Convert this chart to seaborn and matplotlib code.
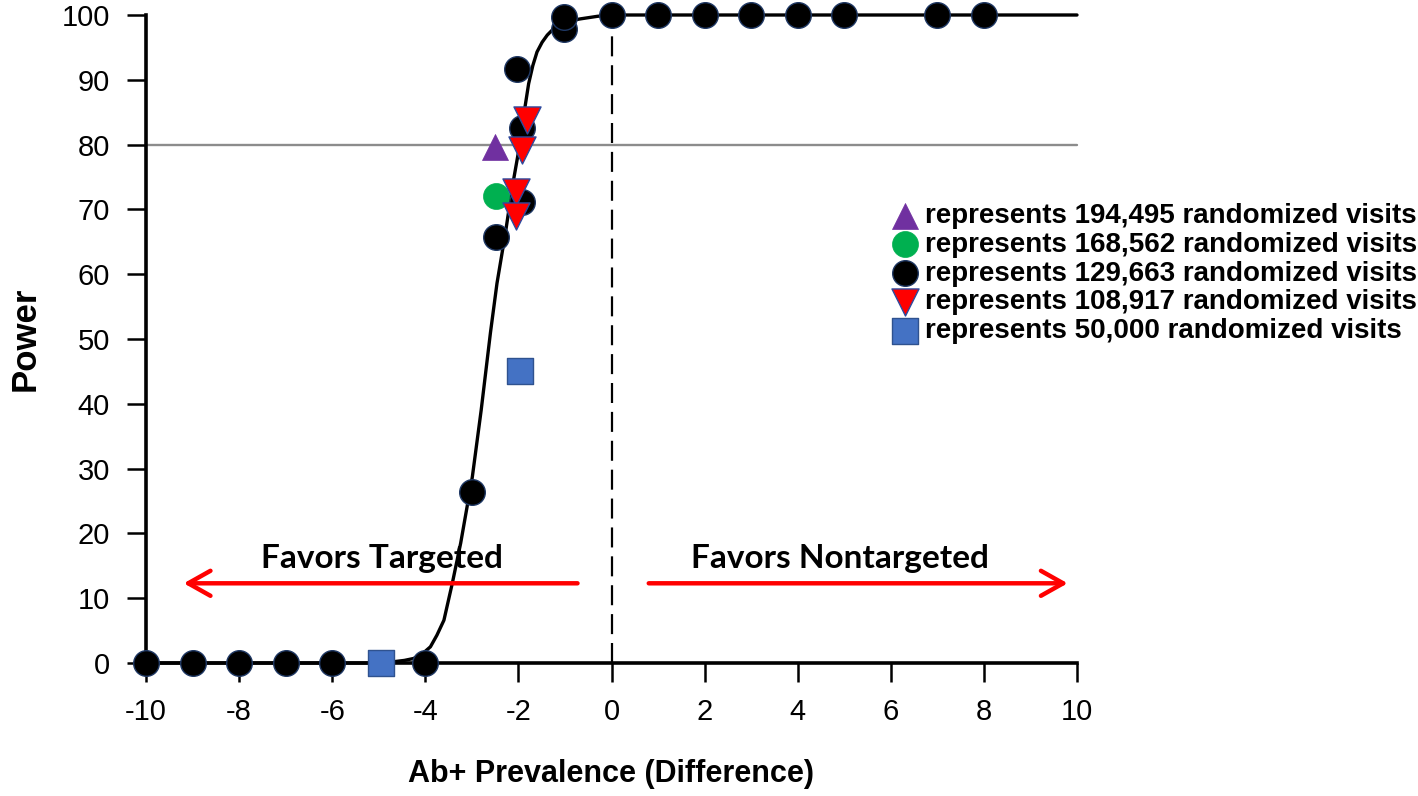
import matplotlib
matplotlib.use("Agg")
import matplotlib.pyplot as plt
import seaborn as sns
import numpy as np
import pandas as pd

# ---------------- data ----------------
black_x = [-10, -9, -8, -7, -6, -4, -3, -2.49, -1.92, -1.92, -2.03, -1.02, -1.02, 0, 1, 2, 3, 4, 5, 7, 8]
black_y = [0, 0, 0, 0, 0, 0, 26.4, 65.8, 71.2, 82.5, 91.7, 97.9, 99.7, 100, 100, 100, 100, 100, 100, 100, 100]

purple_x = [-2.51]
purple_y = [79.7]

green_x = [-2.49]
green_y = [72.0]

red_x = [-1.81, -1.92, -2.05, -2.06]
red_y = [83.8, 79.2, 72.7, 69.0]

blue_x = [-4.96, -1.96]
blue_y = [0.0, 45.0]

curve_x = [-10, -4.8, -4.68, -4.45, -4.25, -4.05, -3.89, -3.75, -3.60, -3.42, -3.24, -2.99,
           -2.80, -2.60, -2.46, -2.28, -2.13, -1.99, -1.88, -1.78, -1.69, -1.60, -1.49,
           -1.38, -1.27, -1.17, -1.03, -0.9, -0.67, -0.3, 0, 10]
curve_y = [0, 0, 0.2, 0.4, 0.7, 1.5, 2.5, 4.3, 6.6, 12.3, 18.5, 28.7,
           39, 51, 58.6, 66.3, 73.5, 79.2, 84.8, 89.4, 92.2, 94.3, 95.8,
           96.9, 97.7, 98.3, 98.8, 99.1, 99.4, 99.8, 100, 100]

labels = ["represents 194,495 randomized visits",
          "represents 168,562 randomized visits",
          "represents 129,663 randomized visits",
          "represents 108,917 randomized visits",
          "represents 50,000 randomized visits"]

x_ticks = list(range(-10, 11, 2))
y_ticks = list(range(0, 101, 10))
power_threshold = 80
x_label = "Ab+ Prevalence (Difference)"
y_label = "Power"
left_text = "Favors Targeted"
right_text = "Favors Nontargeted"

# ---------------- style ----------------
sns.set_theme(style="white")
plt.rcParams["font.family"] = ["Liberation Sans", "DejaVu Sans"]
plt.rcParams["axes.unicode_minus"] = False
plt.rcParams["text.color"] = "black"
plt.rcParams["axes.labelcolor"] = "black"
plt.rcParams["xtick.color"] = "black"
plt.rcParams["ytick.color"] = "black"

fig = plt.figure(figsize=(14.18, 7.96), dpi=100)
ax = fig.add_axes([146/1418, 133/796, (1077-146)/1418, (663-15)/796])

# reference lines
ax.axhline(power_threshold, color="#8c8c8c", lw=1.7, zorder=1)
ax.plot([0, 0], [0, 100], color="black", lw=1.6, ls=(0, (9, 4)), zorder=1)

# fitted curve
sns.lineplot(x=curve_x, y=curve_y, sort=False, color="black", lw=2.4, ax=ax, zorder=2)

# points
sns.scatterplot(x=black_x, y=black_y, marker="o", s=340, color="black",
                edgecolor="#1F3864", linewidth=1.0, label=labels[2], ax=ax, zorder=3)
sns.scatterplot(x=green_x, y=green_y, marker="o", s=350, color="#00B050",
                edgecolor="#00B050", linewidth=0.5, label=labels[1], ax=ax, zorder=4)
sns.scatterplot(x=purple_x, y=purple_y, marker="^", s=350, color="#7030A0",
                edgecolor="#7030A0", linewidth=0.5, label=labels[0], ax=ax, zorder=4)
sns.scatterplot(x=red_x, y=red_y, marker="v", s=380, color="#FF0000",
                edgecolor="#2E4A9E", linewidth=1.0, label=labels[3], ax=ax, zorder=5)
sns.scatterplot(x=blue_x, y=blue_y, marker="s", s=340, color="#4472C4",
                edgecolor="#2F528F", linewidth=1.0, label=labels[4], ax=ax, zorder=6)

for c in ax.collections:
    c.set_clip_on(False)
for l in ax.lines:
    l.set_clip_on(False)

ax.set_xlim(-10, 10)
ax.set_ylim(0, 100)
ax.set_xticks(x_ticks)
ax.set_yticks(y_ticks)
ax.tick_params(axis="both", direction="out", length=14, width=1.8, color="black",
               labelsize=21, labelcolor="black")
ax.tick_params(axis="y", pad=12)
ax.tick_params(axis="x", pad=11)
ax.xaxis.set_ticks_position("bottom")
ax.yaxis.set_ticks_position("left")

for side in ["top", "right"]:
    ax.spines[side].set_visible(False)
for side in ["left", "bottom"]:
    ax.spines[side].set_linewidth(2.6)
    ax.spines[side].set_color("black")

ax.set_xlabel(x_label, fontsize=22, fontweight="bold", labelpad=24)
ax.set_ylabel(y_label, fontsize=25, fontweight="bold", labelpad=14)

# direction annotations
ax.annotate("", xy=(-9.19, 12.3), xytext=(-0.73, 12.3),
            arrowprops=dict(arrowstyle="->,head_length=0.8,head_width=0.45",
                            color="#FF0000", lw=3.2, mutation_scale=20,
                            shrinkA=0, shrinkB=0), zorder=2)
ax.annotate("", xy=(9.8, 12.3), xytext=(0.8, 12.3),
            arrowprops=dict(arrowstyle="->,head_length=0.8,head_width=0.45",
                            color="#FF0000", lw=3.2, mutation_scale=20,
                            shrinkA=0, shrinkB=0), zorder=2)
ax.text(-4.93, 14.7, left_text, ha="center", va="baseline", fontsize=24,
        fontweight="bold", family=["Lato", "DejaVu Sans"], color="black", zorder=2.5)
ax.text(4.90, 14.6, right_text, ha="center", va="baseline", fontsize=24,
        fontweight="bold", family=["Lato", "DejaVu Sans"], color="black", zorder=2.5)

# legend in reference order
handles, labs = ax.get_legend_handles_labels()
order = [labs.index(l) for l in labels]
leg = ax.legend([handles[i] for i in order], [labs[i] for i in order],
                loc="upper left", bbox_to_anchor=(891/1418, 1 - 203/796),
                bbox_transform=fig.transFigure, frameon=False,
                prop={"family": "Liberation Sans", "weight": "bold", "size": 20},
                handlelength=1.0, handletextpad=0.22, labelspacing=0.1,
                borderpad=0, borderaxespad=0)
for t in leg.get_texts():
    t.set_color("black")

fig.savefig("out.png", dpi=100)
